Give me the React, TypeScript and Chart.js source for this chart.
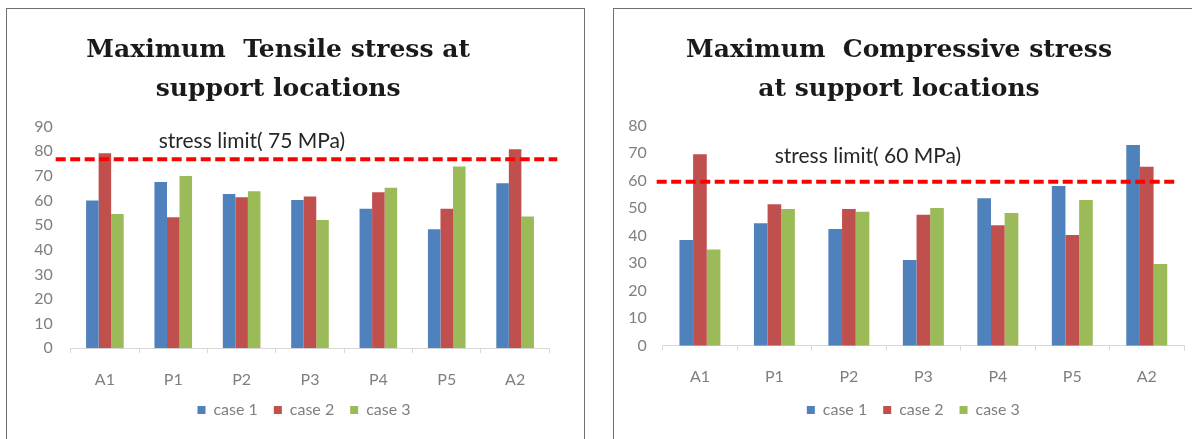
import React, { useEffect, useRef } from 'react';
import { Chart, registerables } from 'chart.js';

Chart.register(...registerables);

// ---------- data ----------
const categories = ['A1', 'P1', 'P2', 'P3', 'P4', 'P5', 'A2'];
const seriesNames = ['case 1', 'case 2', 'case 3'];
const seriesColors = ['#4F81BD', '#C0504D', '#9BBB59'];

const tensileCase1 = [60.0, 67.5, 62.7, 60.2, 56.7, 48.3, 67.0];
const tensileCase2 = [79.2, 53.2, 61.3, 61.7, 63.4, 56.7, 80.8];
const tensileCase3 = [54.5, 70.0, 63.8, 52.1, 65.2, 73.8, 53.5];
const tensileLimit = 76.8;
const tensileLimitLabel = 'stress limit( 75 MPa)';
const tensileTitle = ['Maximum  Tensile stress at', 'support locations'];
const tensileAxisMax = 90;

const compCase1 = [38.4, 44.5, 42.4, 31.2, 53.6, 58.1, 73.0];
const compCase2 = [69.6, 51.4, 49.7, 47.6, 43.8, 40.3, 65.1];
const compCase3 = [35.0, 49.7, 48.7, 50.1, 48.3, 53.0, 29.7];
const compLimit = 59.6;
const compLimitLabel = 'stress limit( 60 MPa)';
const compTitle = ['Maximum  Compressive stress', 'at support locations'];
const compAxisMax = 80;

const axisStep = 10;

type PanelProps = {
  left: number;
  width: number;
  title: string[];
  series: number[][];
  limit: number;
  limitLabel: string;
  yMax: number;
  chartTop: number;
  chartBottom: number;
  yAxisWidth: number;
  yPad: number;
  rightPad: number;
  lineExtL: number;
  lineExtR: number;
  labelDx: number;
  labelDy: number;
  legendShift: number;
};

const CANVAS_H = 430;
const LEGEND_PAD = 16;
const LEGEND_FONT = 16;
const LAYOUT_BOTTOM = 11;
const TITLE_SIZE = 25;
const TITLE_LH = 1.55;
const TITLE_PAD_TOP = 22;

function StressPanel(p: PanelProps) {
  const ref = useRef<HTMLCanvasElement | null>(null);

  useEffect(() => {
    const canvas = ref.current;
    if (!canvas) return;
    const legendH = LEGEND_FONT + LEGEND_PAD + 10;
    const xAxisH = CANVAS_H - LAYOUT_BOTTOM - legendH - p.chartBottom;
    const titleBlock = 2 * TITLE_SIZE * TITLE_LH;

    const limitPlugin = {
      id: 'limitLine',
      afterLayout(chart: any) {
        if (chart.legend) {
          chart.legend.left += p.legendShift;
          chart.legend.right += p.legendShift;
        }
      },
      afterDatasetsDraw(chart: any) {
        const { ctx, chartArea, scales } = chart;
        const y = scales.y.getPixelForValue(p.limit);
        ctx.save();
        ctx.strokeStyle = '#FF0000';
        ctx.lineWidth = 4;
        ctx.setLineDash([10, 4.5]);
        ctx.beginPath();
        ctx.moveTo(chartArea.left - p.lineExtL, y);
        ctx.lineTo(chartArea.right + p.lineExtR, y);
        ctx.stroke();
        ctx.setLineDash([]);
        ctx.fillStyle = '#262626';
        ctx.font = '21px Lato';
        ctx.textBaseline = 'middle';
        ctx.textAlign = 'left';
        ctx.fillText(p.limitLabel, chartArea.left + p.labelDx, y - p.labelDy);
        ctx.restore();
      },
    };

    const chart = new Chart(canvas, {
      type: 'bar',
      data: {
        labels: categories,
        datasets: p.series.map((vals, i) => ({
          label: seriesNames[i],
          data: vals,
          backgroundColor: seriesColors[i],
          borderColor: seriesColors[i],
          borderWidth: 0,
          categoryPercentage: 0.55,
          barPercentage: 1.0,
        })),
      },
      options: {
        responsive: false,
        animation: false,
        layout: {
          padding: { left: 0, right: p.rightPad, top: 0, bottom: LAYOUT_BOTTOM },
        },
        plugins: {
          title: {
            display: true,
            text: p.title,
            color: '#1a1a1a',
            font: { family: "'DejaVu Serif'", size: TITLE_SIZE, weight: 'bold', lineHeight: TITLE_LH },
            padding: { top: TITLE_PAD_TOP, bottom: p.chartTop - TITLE_PAD_TOP - titleBlock },
          },
          legend: {
            display: true,
            position: 'bottom',
            fullSize: false,
            labels: {
              color: '#7f7f7f',
              font: { family: 'Lato', size: LEGEND_FONT },
              boxWidth: 8,
              boxHeight: 8,
              padding: LEGEND_PAD,
            },
          },
          tooltip: { enabled: false },
        },
        scales: {
          x: {
            grid: {
              display: true,
              drawOnChartArea: false,
              drawTicks: true,
              tickLength: 5,
              color: '#d9d9d9',
              offset: true,
            },
            border: { display: true, color: '#d9d9d9', width: 1 },
            ticks: {
              color: '#7f7f7f',
              font: { family: 'Lato', size: 16 },
              padding: 17,
            },
            afterFit: (s: any) => {
              s.height = xAxisH;
            },
          },
          y: {
            min: 0,
            max: p.yMax,
            grid: { display: false, drawTicks: false },
            border: { display: false },
            ticks: {
              stepSize: axisStep,
              color: '#7f7f7f',
              font: { family: 'Lato', size: 16 },
              padding: p.yPad,
            },
            afterFit: (s: any) => {
              s.width = p.yAxisWidth;
            },
          },
        },
      },
      plugins: [limitPlugin],
    } as any);

    return () => chart.destroy();
  }, []);

  return (
    <div
      style={{
        position: 'absolute',
        left: p.left,
        top: 8,
        width: p.width,
        height: 460,
        boxSizing: 'border-box',
        border: '1px solid #707070',
        background: '#fff',
      }}
    >
      <canvas
        ref={ref}
        width={p.width - 2}
        height={CANVAS_H}
        style={{ display: 'block', width: p.width - 2, height: CANVAS_H }}
      />
    </div>
  );
}

export default function App() {
  return (
    <div
      style={{
        position: 'fixed',
        left: 0,
        top: 0,
        width: 1192,
        height: 439,
        overflow: 'hidden',
        background: '#fff',
      }}
    >
      <StressPanel
        left={6}
        width={579}
        title={tensileTitle}
        series={[tensileCase1, tensileCase2, tensileCase3]}
        limit={tensileLimit}
        limitLabel={tensileLimitLabel}
        yMax={tensileAxisMax}
        chartTop={117.7}
        chartBottom={339.3}
        yAxisWidth={63.7}
        yPad={18}
        rightPad={34.7}
        lineExtL={15}
        lineExtR={8}
        labelDx={88}
        labelDy={18}
        legendShift={-6}
      />
      <StressPanel
        left={613}
        width={588}
        title={compTitle}
        series={[compCase1, compCase2, compCase3]}
        limit={compLimit}
        limitLabel={compLimitLabel}
        yMax={compAxisMax}
        chartTop={116.7}
        chartBottom={336.7}
        yAxisWidth={48.7}
        yPad={16}
        rightPad={16}
        lineExtL={6}
        lineExtR={-6}
        labelDx={112}
        labelDy={26}
        legendShift={-10}
      />
    </div>
  );
}
